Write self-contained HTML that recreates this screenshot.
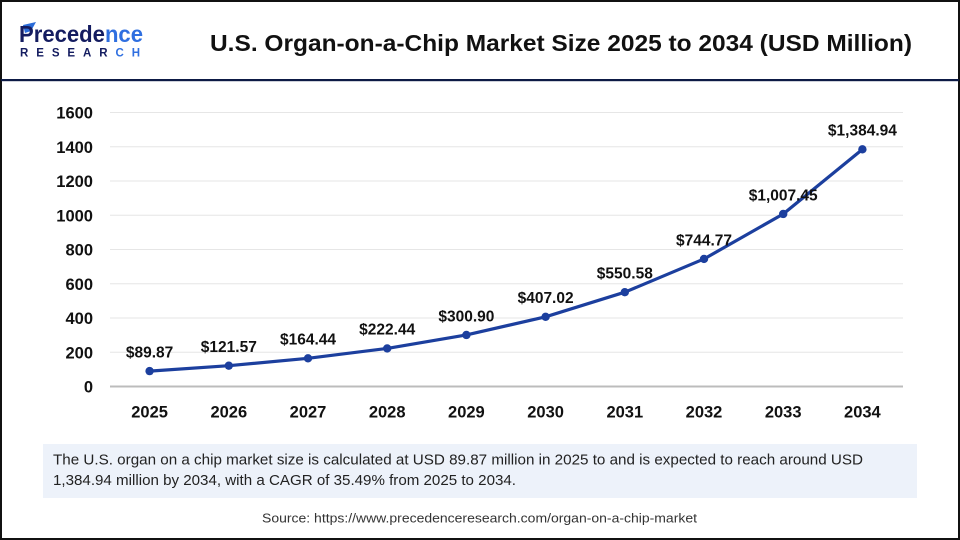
<!DOCTYPE html>
<html>
<head>
<meta charset="utf-8">
<style>
html,body{margin:0;padding:0;background:#fff;}
svg{display:block;}
text{font-family:"Liberation Sans",Arial,sans-serif;}
</style>
</head>
<body>
<svg width="960" height="540" viewBox="0 0 960 540" xmlns="http://www.w3.org/2000/svg">
  <rect x="0" y="0" width="960" height="540" fill="#fff"/>
  <!-- outer border -->
  <rect x="1" y="1" width="958" height="538" fill="none" stroke="#111" stroke-width="2"/>
  <!-- header separator -->
  <rect x="1" y="79" width="958" height="2.2" fill="#0d1a45"/>

  <!-- logo -->
  <path d="M23 25 L36 22 L31 31 L25 33 Z" fill="#2a6bd8"/>
  <text x="19" y="42" font-size="23" font-weight="bold" fill="#141c60" textLength="124" lengthAdjust="spacingAndGlyphs">Precede<tspan fill="#2f6fe0">nce</tspan></text>
  <text x="20" y="56.5" font-size="11.5" font-weight="bold" fill="#141c60" textLength="120" lengthAdjust="spacing">RESEAR<tspan fill="#2f6fe0">CH</tspan></text>

  <!-- title -->
  <text x="210" y="51" font-size="23" font-weight="bold" fill="#111" textLength="702" lengthAdjust="spacingAndGlyphs">U.S. Organ-on-a-Chip Market Size 2025 to 2034 (USD Million)</text>

  <!-- gridlines -->
  <g stroke="#e6e6e6" stroke-width="1">
    <line x1="110" y1="112.5" x2="903" y2="112.5"/>
    <line x1="110" y1="146.75" x2="903" y2="146.75"/>
    <line x1="110" y1="181" x2="903" y2="181"/>
    <line x1="110" y1="215.25" x2="903" y2="215.25"/>
    <line x1="110" y1="249.5" x2="903" y2="249.5"/>
    <line x1="110" y1="283.75" x2="903" y2="283.75"/>
    <line x1="110" y1="318" x2="903" y2="318"/>
    <line x1="110" y1="352.25" x2="903" y2="352.25"/>
  </g>
  <line x1="110" y1="386.5" x2="903" y2="386.5" stroke="#bcbcbc" stroke-width="2"/>

  <!-- y labels -->
  <g font-size="16.5" font-weight="bold" fill="#111" text-anchor="end">
    <text x="93" y="118.5">1600</text>
    <text x="93" y="152.75">1400</text>
    <text x="93" y="187">1200</text>
    <text x="93" y="221.25">1000</text>
    <text x="93" y="255.5">800</text>
    <text x="93" y="289.75">600</text>
    <text x="93" y="324">400</text>
    <text x="93" y="358.25">200</text>
    <text x="93" y="392.5">0</text>
  </g>

  <!-- x labels -->
  <g font-size="16.5" font-weight="bold" fill="#111" text-anchor="middle">
    <text x="149.6" y="417.5">2025</text>
    <text x="228.8" y="417.5">2026</text>
    <text x="308" y="417.5">2027</text>
    <text x="387.2" y="417.5">2028</text>
    <text x="466.4" y="417.5">2029</text>
    <text x="545.6" y="417.5">2030</text>
    <text x="624.8" y="417.5">2031</text>
    <text x="704" y="417.5">2032</text>
    <text x="783.2" y="417.5">2033</text>
    <text x="862.4" y="417.5">2034</text>
  </g>

  <!-- series -->
  <polyline fill="none" stroke="#1c3f9e" stroke-width="3.2" stroke-linejoin="round" stroke-linecap="round"
    points="149.6,371.11 228.8,365.68 308,358.34 387.2,348.41 466.4,334.97 545.6,316.8 624.8,292.21 704,258.96 783.2,213.97 862.4,149.33"/>
  <g fill="#1c3f9e">
    <circle cx="149.6" cy="371.11" r="4.2"/>
    <circle cx="228.8" cy="365.68" r="4.2"/>
    <circle cx="308" cy="358.34" r="4.2"/>
    <circle cx="387.2" cy="348.41" r="4.2"/>
    <circle cx="466.4" cy="334.97" r="4.2"/>
    <circle cx="545.6" cy="316.8" r="4.2"/>
    <circle cx="624.8" cy="292.21" r="4.2"/>
    <circle cx="704" cy="258.96" r="4.2"/>
    <circle cx="783.2" cy="213.97" r="4.2"/>
    <circle cx="862.4" cy="149.33" r="4.2"/>
  </g>

  <!-- data labels -->
  <g font-size="15.5" font-weight="bold" fill="#111" text-anchor="middle">
    <text x="149.6" y="357.4">$89.87</text>
    <text x="228.8" y="352">$121.57</text>
    <text x="308" y="344.6">$164.44</text>
    <text x="387.2" y="334.7">$222.44</text>
    <text x="466.4" y="321.3">$300.90</text>
    <text x="545.6" y="303.1">$407.02</text>
    <text x="624.8" y="278.5">$550.58</text>
    <text x="704" y="245.3">$744.77</text>
    <text x="783.2" y="200.3">$1,007.45</text>
    <text x="862.4" y="135.6">$1,384.94</text>
  </g>

  <!-- info box -->
  <rect x="43" y="444" width="874" height="54" fill="#edf2fa"/>
  <g font-size="15" fill="#222">
    <text x="53" y="464.5" textLength="810" lengthAdjust="spacingAndGlyphs">The U.S. organ on a chip market size is calculated at USD 89.87 million in 2025 to and is expected to reach around USD</text>
    <text x="53" y="485" textLength="463" lengthAdjust="spacingAndGlyphs">1,384.94 million by 2034, with a CAGR of 35.49% from 2025 to 2034.</text>
  </g>

  <!-- source -->
  <text x="262" y="522.5" font-size="12.5" fill="#333" textLength="435" lengthAdjust="spacingAndGlyphs">Source: https://www.precedenceresearch.com/organ-on-a-chip-market</text>
</svg>
</body>
</html>
